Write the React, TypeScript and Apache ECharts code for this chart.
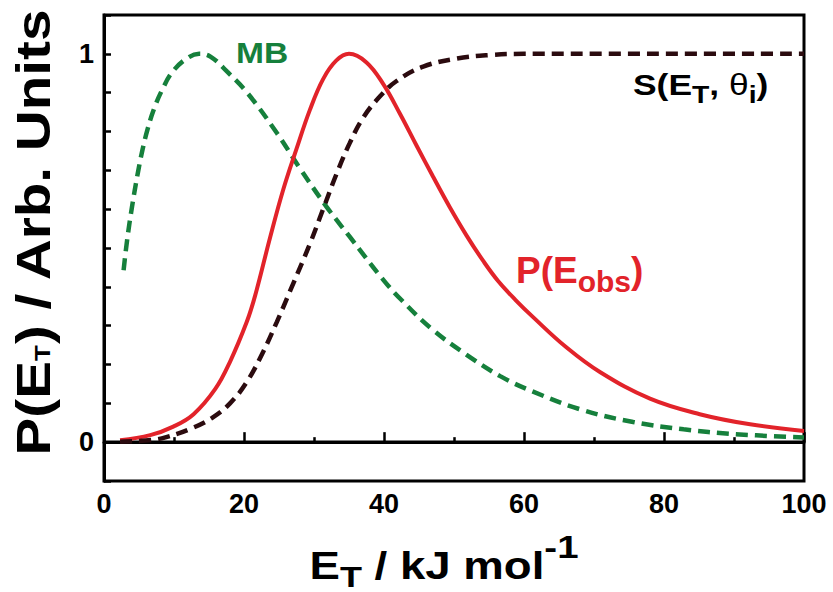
import React, { useEffect, useRef } from "react";
import * as echarts from "echarts";

const FONT = '"Liberation Sans", Arial, Helvetica, sans-serif';
const RED = "#e2232a";
const GREEN = "#16803c";
const DARK = "#2b0b0f";

// P(E_obs)
const pObsEnergy = [2.3, 6.6, 9.9, 12.8, 15.9, 18.0, 20.4, 21.6, 23.7, 25.6, 27.5, 29.4, 31.3, 33.2, 35.0, 37.5, 39.9, 42.3, 44.7, 47.0, 49.4, 51.8, 54.2, 56.3, 58.8, 61.3, 66.0, 70.9, 78.0, 85.1, 92.3, 100];
const pObsValue = [0.005, 0.018, 0.04, 0.072, 0.137, 0.207, 0.31, 0.378, 0.525, 0.65, 0.755, 0.855, 0.935, 0.983, 1.0, 0.978, 0.922, 0.845, 0.762, 0.684, 0.605, 0.532, 0.466, 0.415, 0.366, 0.322, 0.245, 0.18, 0.112, 0.072, 0.046, 0.029];

// MB
const mbEnergy = [2.8, 3.3, 4.0, 4.8, 5.5, 6.2, 7.1, 8.3, 9.8, 11.9, 13.6, 15.2, 17.6, 20.5, 24.7, 28.0, 31.8, 35.1, 39.9, 42.5, 47.0, 51.8, 56.6, 61.3, 68.5, 75.6, 82.8, 89.9, 100];
const mbValue = [0.443, 0.52, 0.606, 0.69, 0.753, 0.804, 0.856, 0.907, 0.954, 0.989, 1.0, 0.993, 0.954, 0.899, 0.796, 0.705, 0.606, 0.529, 0.418, 0.366, 0.289, 0.225, 0.17, 0.13, 0.082, 0.052, 0.033, 0.021, 0.012];

// S(E_T, theta_i)
const sEnergy = [2.3, 7.0, 8.9, 12.3, 15.4, 18.0, 20.4, 22.8, 24.7, 26.6, 29.4, 31.3, 33.2, 35.1, 37.0, 39.4, 41.8, 45.6, 50.4, 55.1, 60.0, 100];
const sValue = [0.001, 0.006, 0.013, 0.034, 0.062, 0.1, 0.155, 0.235, 0.31, 0.39, 0.51, 0.6, 0.69, 0.77, 0.835, 0.89, 0.93, 0.967, 0.988, 0.997, 1.0, 1.0];

// baseline
const zeroLineEnergy = [0, 100];
const zeroLineValue = [0, 0];

const xRange = [0, 100];
const xTickStep = 20;
const yRange = [-0.1, 1.1];
const yTickStep = 0.1;
const yLabelValues = [0, 1];

const zip = (xs: number[], ys: number[]) => xs.map((x, i) => [x, ys[i]]);

export default function App() {
  const ref = useRef<HTMLDivElement>(null);
  useEffect(() => {
    if (!ref.current) return;
    const chart = echarts.init(ref.current, null, { renderer: "svg" });
    const bold = { fontWeight: "bold", fontFamily: FONT, verticalAlign: "middle" };
    chart.setOption({
      animation: false,
      backgroundColor: "#ffffff",
      grid: {
        left: 104,
        right: 29,
        top: 15,
        bottom: 111,
        show: true,
        borderColor: "#000",
        borderWidth: 3,
        backgroundColor: "transparent",
      },
      xAxis: {
        type: "value",
        min: xRange[0],
        max: xRange[1],
        interval: xTickStep,
        axisLine: { lineStyle: { color: "#000", width: 3 } },
        axisTick: { inside: true, length: 10, lineStyle: { color: "#000", width: 2.5 } },
        minorTick: { show: true, splitNumber: 2, length: 5, lineStyle: { color: "#000", width: 2.5 } },
        splitLine: { show: false },
        axisLabel: { color: "#000", fontSize: 27, fontWeight: "bold", fontFamily: FONT, margin: 9 },
      },
      yAxis: {
        type: "value",
        min: yRange[0],
        max: yRange[1],
        interval: yTickStep,
        axisLine: { lineStyle: { color: "#000", width: 3 } },
        axisTick: { inside: true, length: 7, lineStyle: { color: "#000", width: 2.5 } },
        splitLine: { show: false },
        axisLabel: {
          color: "#000",
          fontSize: 27,
          fontWeight: "bold",
          fontFamily: FONT,
          margin: 10,
          padding: [6, 0, 0, 0],
          formatter: (v: number) => {
            const hit = yLabelValues.find((l) => Math.abs(l - v) < 1e-6);
            return hit === undefined ? "" : String(hit);
          },
        },
      },
      series: [
        {
          type: "line",
          data: zip(zeroLineEnergy, zeroLineValue),
          showSymbol: false,
          symbol: "none",
          lineStyle: { color: "#000", width: 3.5 },
          z: 1,
          silent: true,
        },
        {
          type: "line",
          name: "MB",
          data: zip(mbEnergy, mbValue),
          showSymbol: false,
          symbol: "none",
          smooth: 0.4,
          lineStyle: { color: GREEN, width: 4.5, type: [12, 7] },
          z: 2,
        },
        {
          type: "line",
          name: "P(Eobs)",
          data: zip(pObsEnergy, pObsValue),
          showSymbol: false,
          symbol: "none",
          smooth: 0.4,
          lineStyle: { color: RED, width: 4 },
          z: 3,
        },
        {
          type: "line",
          name: "S",
          data: zip(sEnergy, sValue),
          showSymbol: false,
          symbol: "none",
          smooth: 0.4,
          lineStyle: { color: DARK, width: 4.5, type: [12, 7] },
          z: 4,
        },
      ],
      graphic: [
        {
          type: "text",
          x: 33,
          y: 232,
          rotation: Math.PI / 2,
          scaleX: 1.18,
          style: {
            text: "{m|P(E}{s|T}{m|) / Arb. Units}",
            textAlign: "center",
            textVerticalAlign: "middle",
            rich: {
              m: { ...bold, fontSize: 48, fill: "#000" },
              s: { ...bold, fontSize: 22, fill: "#000", padding: [18, 0, 0, 0] },
            },
          },
        },
        {
          type: "text",
          x: 444,
          y: 566,
          scaleX: 1.2,
          style: {
            text: "{m|E}{s|T}{m| / kJ mol}{p|-1}",
            textAlign: "center",
            textVerticalAlign: "middle",
            rich: {
              m: { ...bold, fontSize: 38, fill: "#000" },
              s: { ...bold, fontSize: 30, fill: "#000", padding: [21, 0, 0, 0] },
              p: { ...bold, fontSize: 32, fill: "#000", padding: [0, 0, 39, 0] },
            },
          },
        },
        {
          type: "text",
          x: 236,
          y: 53,
          scaleX: 1.12,
          style: {
            text: "{m|MB}",
            textAlign: "left",
            textVerticalAlign: "middle",
            rich: { m: { ...bold, fontSize: 30, fill: GREEN } },
          },
        },
        {
          type: "text",
          x: 516,
          y: 270,
          style: {
            text: "{m|P(E}{s|obs}{m|)}",
            textAlign: "left",
            textVerticalAlign: "middle",
            rich: {
              m: { ...bold, fontSize: 37, fill: RED },
              s: { ...bold, fontSize: 30, fill: RED, padding: [22, 0, 0, 0] },
            },
          },
        },
        {
          type: "text",
          x: 633,
          y: 84.5,
          scaleX: 1.18,
          style: {
            text: "{m|S(E}{s|T}{m|, }{t|θ}{s|i}{m|)}",
            textAlign: "left",
            textVerticalAlign: "middle",
            rich: {
              m: { ...bold, fontSize: 30, fill: "#000" },
              s: { ...bold, fontSize: 24, fill: "#000", padding: [21, 0, 0, 0] },
              t: { fontFamily: FONT, fontWeight: "normal", verticalAlign: "middle", fontSize: 30, fill: "#000" },
            },
          },
        },
      ],
    });
    return () => chart.dispose();
  }, []);
  return (
    <div
      ref={ref}
      style={{ position: "absolute", left: 0, top: 0, width: 833, height: 592, background: "#fff" }}
    />
  );
}
